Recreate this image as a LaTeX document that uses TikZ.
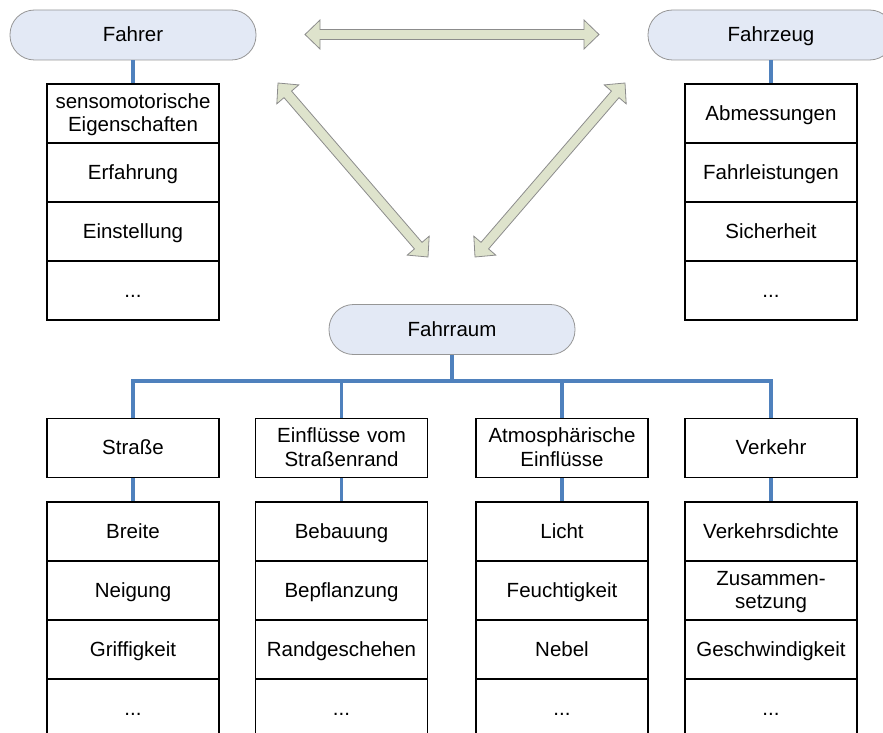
\documentclass[tikz,border=0pt]{standalone}
\usepackage{fontspec}
\setmainfont{Liberation Sans}
\usetikzlibrary{calc}
\definecolor{pillfill}{RGB}{227,233,245}
\definecolor{pillline}{RGB}{150,150,150}
\definecolor{arrfill}{RGB}{222,227,204}
\definecolor{arrline}{RGB}{140,140,140}
\definecolor{connblue}{RGB}{79,129,189}
\newcommand{\lnstrut}{\rule[-4.8pt]{0pt}{22.8pt}}
\newcommand{\dblarrow}[2]{%
  \coordinate (#1h) at ($(#1)!15pt!(#2)$);
  \coordinate (#2h) at ($(#2)!15pt!(#1)$);
  \draw[blockarrow] (#1) -- ($(#1h)!14.5pt!90:(#1)$) -- ($(#1h)!5pt!90:(#1)$)
    -- ($(#2h)!5pt!-90:(#2)$) -- ($(#2h)!14.5pt!-90:(#2)$) -- (#2)
    -- ($(#2h)!14.5pt!90:(#2)$) -- ($(#2h)!5pt!90:(#2)$)
    -- ($(#1h)!5pt!-90:(#1)$) -- ($(#1h)!14.5pt!-90:(#1)$) -- cycle;}
\begin{document}
\begin{tikzpicture}[x=1pt,y=-1pt,font=\fontsize{20.5}{23.5}\selectfont,
  pill/.style={draw=pillline,fill=pillfill,rounded corners=24.5pt,minimum width=246pt,minimum height=50pt,inner sep=0pt,line width=0.8pt,execute at begin node=\lnstrut},
  cell/.style={draw=black,line width=1.2pt,minimum width=172pt,minimum height=59pt,inner sep=0pt,align=center,text width=170pt,execute at begin node=\lnstrut,execute at end node=\lnstrut},
  conn/.style={draw=connblue,line width=3.5pt},
  blockarrow/.style={draw=arrline,fill=arrfill,line width=0.8pt,line join=miter}]
\useasboundingbox (0,0) rectangle (883,733);
\clip (0,0) rectangle (883,733);
% pills
\node[pill] (fahrer) at (133,35) {Fahrer};
\node[pill] (fahrzeug) at (771,35) {Fahrzeug};
\node[pill] (fahrraum) at (452,329.5) {Fahrraum};
% Fahrer column
\node[cell] (f1) at (133,113.5) {sensomotorische\\Eigenschaften};
\node[cell] (f2) at (133,172.5) {Erfahrung};
\node[cell] (f3) at (133,231.5) {Einstellung};
\node[cell] (f4) at (133,290.5) {...};
% Fahrzeug column
\node[cell] (z1) at (771,113.5) {Abmessungen};
\node[cell] (z2) at (771,172.5) {Fahrleistungen};
\node[cell] (z3) at (771,231.5) {Sicherheit};
\node[cell] (z4) at (771,290.5) {...};
% second level
\node[cell] (s) at (133,448) {Straße};
\node[cell] (e) at (341.5,448) {Einflüsse vom\\Straßenrand};
\node[cell] (a) at (562,448) {Atmosphärische\\Einflüsse};
\node[cell] (v) at (771,448) {Verkehr};
% third level
\node[cell] (s1) at (133,531.5) {Breite};
\node[cell] (s2) at (133,590.5) {Neigung};
\node[cell] (s3) at (133,649.5) {Griffigkeit};
\node[cell] (s4) at (133,708.5) {...};
\node[cell] (e1) at (341.5,531.5) {Bebauung};
\node[cell] (e2) at (341.5,590.5) {Bepflanzung};
\node[cell] (e3) at (341.5,649.5) {Randgeschehen};
\node[cell] (e4) at (341.5,708.5) {...};
\node[cell] (a1) at (562,531.5) {Licht};
\node[cell] (a2) at (562,590.5) {Feuchtigkeit};
\node[cell] (a3) at (562,649.5) {Nebel};
\node[cell] (a4) at (562,708.5) {...};
\node[cell] (v1) at (771,531.5) {Verkehrsdichte};
\node[cell] (v2) at (771,590.5) {Zusammen-\\setzung};
\node[cell] (v3) at (771,649.5) {Geschwindigkeit};
\node[cell] (v4) at (771,708.5) {...};
% connectors
\draw[conn] (fahrer.south) -- (f1.north);
\draw[conn] (fahrzeug.south) -- (z1.north);
\coordinate (bus) at (452,381);
\draw[conn] (fahrraum.south) -- (bus);
\draw[conn] (s.north) |- (bus);
\draw[conn] (v.north) |- (bus);
\draw[conn] (e.north) -- (e.north |- bus);
\draw[conn] (a.north) -- (a.north |- bus);
\draw[conn] (s.south) -- (s1.north);
\draw[conn] (e.south) -- (e1.north);
\draw[conn] (a.south) -- (a1.north);
\draw[conn] (v.south) -- (v1.north);
% block arrows
\coordinate (ah1) at (305,34.5);
\coordinate (ah2) at (599,34.5);
\coordinate (al1) at (278,83);
\coordinate (al2) at (428,257);
\coordinate (ar1) at (625,83);
\coordinate (ar2) at (475,257);
\dblarrow{ah1}{ah2}
\dblarrow{al1}{al2}
\dblarrow{ar1}{ar2}
\end{tikzpicture}
\end{document}
